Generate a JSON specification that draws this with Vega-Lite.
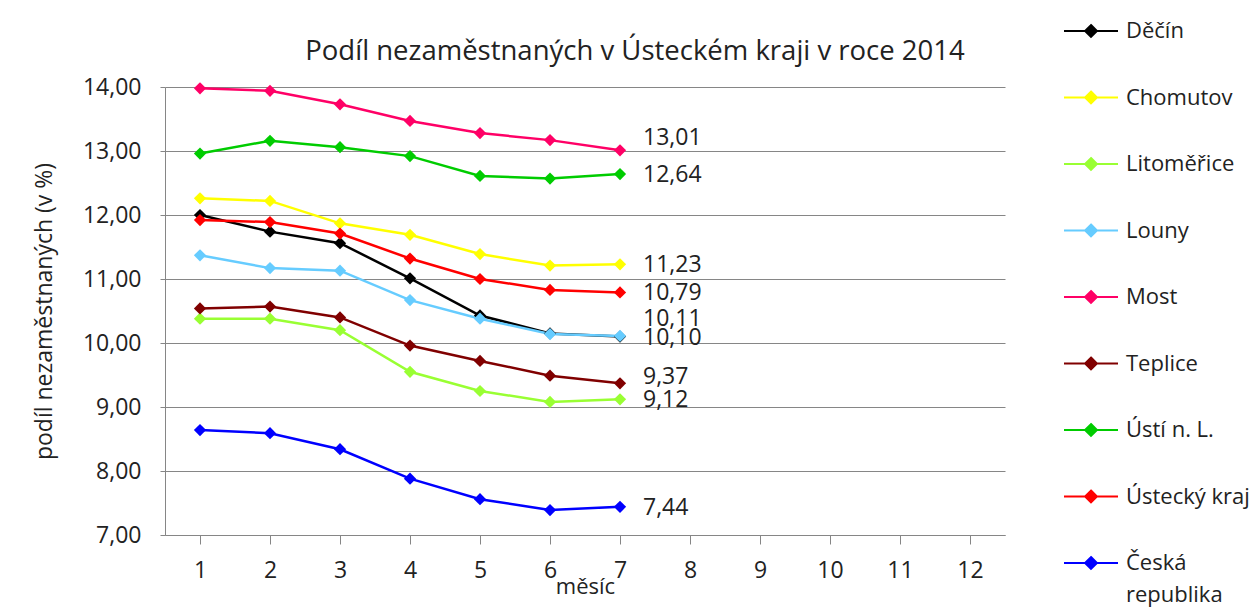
{
  "$schema": "https://vega.github.io/schema/vega-lite/v6.json",
  "autosize": {"type": "none"},
  "width": 840,
  "height": 448,
  "padding": {"left": 165, "top": 87, "right": 253, "bottom": 73},
  "background": "white",
  "config": {
    "locale": {"number": {"decimal": ",", "thousands": " ", "grouping": [3], "currency": ["", " Kč"]}},
    "font": "Open Sans",
    "view": {"stroke": null},
    "axis": {"labelFont": "Open Sans", "titleFont": "Open Sans", "labelColor": "#222222", "titleColor": "#222222", "domainColor": "#868686", "tickColor": "#868686", "gridColor": "#868686", "labelFontSize": 23, "titleFontSize": 23, "titleFontWeight": "normal"},
    "legend": {"labelFont": "Open Sans", "labelFontSize": 22, "labelColor": "#222222"}
  },
  "title": {"text": "Podíl nezaměstnaných v Ústeckém kraji v roce 2014", "fontSize": 27.5, "fontWeight": "normal", "color": "#222222", "font": "Open Sans", "anchor": "middle", "frame": "group", "dx": 50, "offset": -62},
  "data": {"values": [
    {"m": 1, "s": "Děčín", "v": 12.00}, {"m": 2, "s": "Děčín", "v": 11.74}, {"m": 3, "s": "Děčín", "v": 11.56}, {"m": 4, "s": "Děčín", "v": 11.01}, {"m": 5, "s": "Děčín", "v": 10.43}, {"m": 6, "s": "Děčín", "v": 10.15}, {"m": 7, "s": "Děčín", "v": 10.10},
    {"m": 1, "s": "Chomutov", "v": 12.26}, {"m": 2, "s": "Chomutov", "v": 12.22}, {"m": 3, "s": "Chomutov", "v": 11.87}, {"m": 4, "s": "Chomutov", "v": 11.69}, {"m": 5, "s": "Chomutov", "v": 11.39}, {"m": 6, "s": "Chomutov", "v": 11.21}, {"m": 7, "s": "Chomutov", "v": 11.23},
    {"m": 1, "s": "Litoměřice", "v": 10.38}, {"m": 2, "s": "Litoměřice", "v": 10.38}, {"m": 3, "s": "Litoměřice", "v": 10.20}, {"m": 4, "s": "Litoměřice", "v": 9.55}, {"m": 5, "s": "Litoměřice", "v": 9.25}, {"m": 6, "s": "Litoměřice", "v": 9.08}, {"m": 7, "s": "Litoměřice", "v": 9.12},
    {"m": 1, "s": "Louny", "v": 11.37}, {"m": 2, "s": "Louny", "v": 11.17}, {"m": 3, "s": "Louny", "v": 11.13}, {"m": 4, "s": "Louny", "v": 10.67}, {"m": 5, "s": "Louny", "v": 10.38}, {"m": 6, "s": "Louny", "v": 10.14}, {"m": 7, "s": "Louny", "v": 10.11},
    {"m": 1, "s": "Most", "v": 13.98}, {"m": 2, "s": "Most", "v": 13.94}, {"m": 3, "s": "Most", "v": 13.73}, {"m": 4, "s": "Most", "v": 13.47}, {"m": 5, "s": "Most", "v": 13.28}, {"m": 6, "s": "Most", "v": 13.17}, {"m": 7, "s": "Most", "v": 13.01},
    {"m": 1, "s": "Teplice", "v": 10.54}, {"m": 2, "s": "Teplice", "v": 10.57}, {"m": 3, "s": "Teplice", "v": 10.40}, {"m": 4, "s": "Teplice", "v": 9.96}, {"m": 5, "s": "Teplice", "v": 9.72}, {"m": 6, "s": "Teplice", "v": 9.49}, {"m": 7, "s": "Teplice", "v": 9.37},
    {"m": 1, "s": "Ústí n. L.", "v": 12.96}, {"m": 2, "s": "Ústí n. L.", "v": 13.16}, {"m": 3, "s": "Ústí n. L.", "v": 13.06}, {"m": 4, "s": "Ústí n. L.", "v": 12.92}, {"m": 5, "s": "Ústí n. L.", "v": 12.61}, {"m": 6, "s": "Ústí n. L.", "v": 12.57}, {"m": 7, "s": "Ústí n. L.", "v": 12.64},
    {"m": 1, "s": "Ústecký kraj", "v": 11.92}, {"m": 2, "s": "Ústecký kraj", "v": 11.89}, {"m": 3, "s": "Ústecký kraj", "v": 11.71}, {"m": 4, "s": "Ústecký kraj", "v": 11.32}, {"m": 5, "s": "Ústecký kraj", "v": 11.00}, {"m": 6, "s": "Ústecký kraj", "v": 10.83}, {"m": 7, "s": "Ústecký kraj", "v": 10.79},
    {"m": 1, "s": "Česká republika", "v": 8.64}, {"m": 2, "s": "Česká republika", "v": 8.59}, {"m": 3, "s": "Česká republika", "v": 8.34}, {"m": 4, "s": "Česká republika", "v": 7.88}, {"m": 5, "s": "Česká republika", "v": 7.56}, {"m": 6, "s": "Česká republika", "v": 7.39}, {"m": 7, "s": "Česká republika", "v": 7.44}
  ]},
  "encoding": {
    "x": {"field": "m", "type": "ordinal", "scale": {"domain": [1,2,3,4,5,6,7,8,9,10,11,12], "paddingInner": 0, "paddingOuter": 0}, "axis": {"title": "měsíc", "labelAngle": 0, "bandPosition": 0, "tickSize": 9, "labelPadding": 15, "titlePadding": -6, "grid": false, "domainColor": "#868686", "titleFontSize": 22}},
    "y": {"field": "v", "type": "quantitative", "scale": {"domain": [7, 14], "nice": false, "zero": false}, "axis": {"title": "podíl nezaměstnaných (v %)", "values": [7,8,9,10,11,12,13,14], "format": ".2f", "tickSize": 5, "labelPadding": 19, "titlePadding": 26, "grid": true}}
  },
  "layer": [
    {
      "mark": {"type": "line", "strokeWidth": 2.5},
      "encoding": {
        "color": {"field": "s", "type": "nominal",
          "scale": {"domain": ["Děčín", "Chomutov", "Litoměřice", "Louny", "Most", "Teplice", "Ústí n. L.", "Ústecký kraj", "Česká republika"],
                    "range": ["#000000", "#FFFF00", "#99FF33", "#66CCFF", "#FF0066", "#800000", "#00CC00", "#FF0000", "#0000FF"]},
          "legend": {"title": null, "orient": "none", "legendX": 898, "legendY": -84, "padding": 0, "symbolType": "M-1,0L1,0M0,-0.22L0.22,0L0,0.22L-0.22,0Z", "symbolSize": 2916, "symbolStrokeWidth": 2, "rowPadding": 27.5, "labelOffset": 7, "labelLimit": 200,
            "labelExpr": "datum.value == 'Česká republika' ? ['Česká', 'republika'] : datum.label",
            "encode": {"labels": {"update": {"lineHeight": {"value": 32}}}}}}
      }
    },
    {
      "mark": {"type": "point", "shape": "diamond", "filled": true, "size": 150, "opacity": 1},
      "encoding": {"color": {"field": "s", "type": "nominal", "legend": null}}
    },
    {
      "transform": [{"filter": "datum.m == 7 && indexof(['Most', 'Louny', 'Teplice'], datum.s) < 0"}],
      "mark": {"type": "text", "align": "left", "dx": 23, "dy": 1, "fontSize": 23, "color": "#222222"},
      "encoding": {"text": {"field": "v", "type": "quantitative", "format": ".2f"}}
    },
    {
      "transform": [{"filter": "datum.m == 7 && datum.s == 'Most'"}],
      "mark": {"type": "text", "align": "left", "dx": 23, "dy": -12, "fontSize": 23, "color": "#222222"},
      "encoding": {"text": {"field": "v", "type": "quantitative", "format": ".2f"}}
    },
    {
      "transform": [{"filter": "datum.m == 7 && datum.s == 'Louny'"}],
      "mark": {"type": "text", "align": "left", "dx": 23, "dy": -17, "fontSize": 23, "color": "#222222"},
      "encoding": {"text": {"field": "v", "type": "quantitative", "format": ".2f"}}
    },
    {
      "transform": [{"filter": "datum.m == 7 && datum.s == 'Teplice'"}],
      "mark": {"type": "text", "align": "left", "dx": 23, "dy": -6, "fontSize": 23, "color": "#222222"},
      "encoding": {"text": {"field": "v", "type": "quantitative", "format": ".2f"}}
    }
  ]
}
